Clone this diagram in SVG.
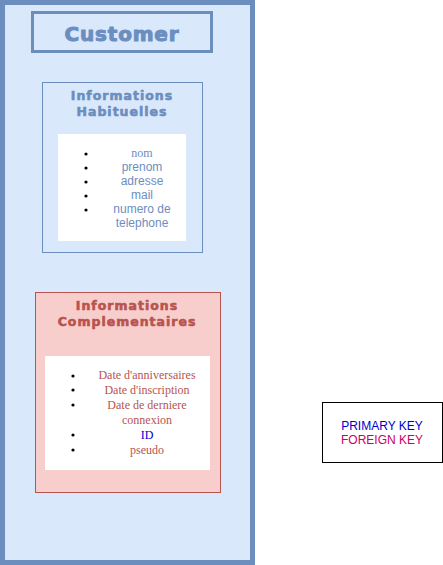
<svg xmlns="http://www.w3.org/2000/svg" width="443" height="565" viewBox="0 0 443 565">
<style>
.title{font-family:"DejaVu Sans",sans-serif;font-weight:bold;text-anchor:middle;stroke-linejoin:round}
.blue{fill:#6c8ebf}
.red{fill:#b85450}
.tb{stroke:#6c8ebf}
.tr{stroke:#b85450}
.sans{font-family:"Liberation Sans",Arial,sans-serif;font-size:12px;text-anchor:middle}
.serif{font-family:"Liberation Serif","Times New Roman",serif;font-size:12px;text-anchor:middle}
.bullet{fill:#000}
</style>
<rect width="443" height="565" fill="#ffffff"/>
<g id="customer">
<rect x="2.5" y="2.5" width="250" height="560" fill="#dae8fc" stroke="#6c8ebf" stroke-width="5"/>
<rect x="32.5" y="12.5" width="179" height="39" fill="none" stroke="#6c8ebf" stroke-width="3"/>
<text class="title blue tb" x="122" y="41" font-size="20" letter-spacing="0.8" stroke-width="1">Customer</text>
</g>
<g id="habituelles">
<rect x="42.5" y="82.5" width="160" height="170" fill="#dae8fc" stroke="#6c8ebf"/>
<text class="title blue tb" x="122" y="100" font-size="12.5" letter-spacing="1" stroke-width="0.6">Informations</text>
<text class="title blue tb" x="122" y="116" font-size="12.5" letter-spacing="1" stroke-width="0.6">Habituelles</text>
<rect x="58" y="134" width="128" height="107" fill="#ffffff"/>
<g class="bullet">
<circle cx="86" cy="154" r="1.6"/>
<circle cx="86" cy="168" r="1.6"/>
<circle cx="86" cy="182" r="1.6"/>
<circle cx="86" cy="196" r="1.6"/>
<circle cx="86" cy="210" r="1.6"/>
</g>
<text class="serif blue" x="142" y="157" font-size="11">nom</text>
<text class="sans blue" x="142" y="171">prenom</text>
<text class="sans blue" x="142" y="185">adresse</text>
<text class="sans blue" x="142" y="199">mail</text>
<text class="sans blue" x="142" y="213">numero de</text>
<text class="sans blue" x="142" y="227">telephone</text>
</g>
<g id="complementaires">
<rect x="35.5" y="292.5" width="185" height="200" fill="#f8cecc" stroke="#b85450"/>
<text class="title red tr" x="127" y="310" font-size="12.5" letter-spacing="1" stroke-width="0.6">Informations</text>
<text class="title red tr" x="127" y="326" font-size="12.5" letter-spacing="1" stroke-width="0.6">Complementaires</text>
<rect x="45" y="356" width="165" height="114" fill="#ffffff"/>
<g class="bullet">
<circle cx="73" cy="376" r="1.6"/>
<circle cx="73" cy="390" r="1.6"/>
<circle cx="73" cy="405" r="1.6"/>
<circle cx="73" cy="435" r="1.6"/>
<circle cx="73" cy="450" r="1.6"/>
</g>
<text class="serif red" x="147" y="379">Date d'anniversaires</text>
<text class="serif red" x="147" y="394">Date d'inscription</text>
<text class="serif red" x="147" y="409">Date de derniere</text>
<text class="serif red" x="147" y="424">connexion</text>
<text class="serif" x="147" y="439" fill="#0000cc">ID</text>
<text class="serif red" x="147" y="454">pseudo</text>
</g>
<g id="legend">
<rect x="322.5" y="402.5" width="120" height="60" fill="#ffffff" stroke="#000000"/>
<text class="sans" x="382" y="430" fill="#0000cc">PRIMARY KEY</text>
<text class="sans" x="382" y="444" fill="#cc0066">FOREIGN KEY</text>
</g>
<g id="connectors"/>
</svg>
